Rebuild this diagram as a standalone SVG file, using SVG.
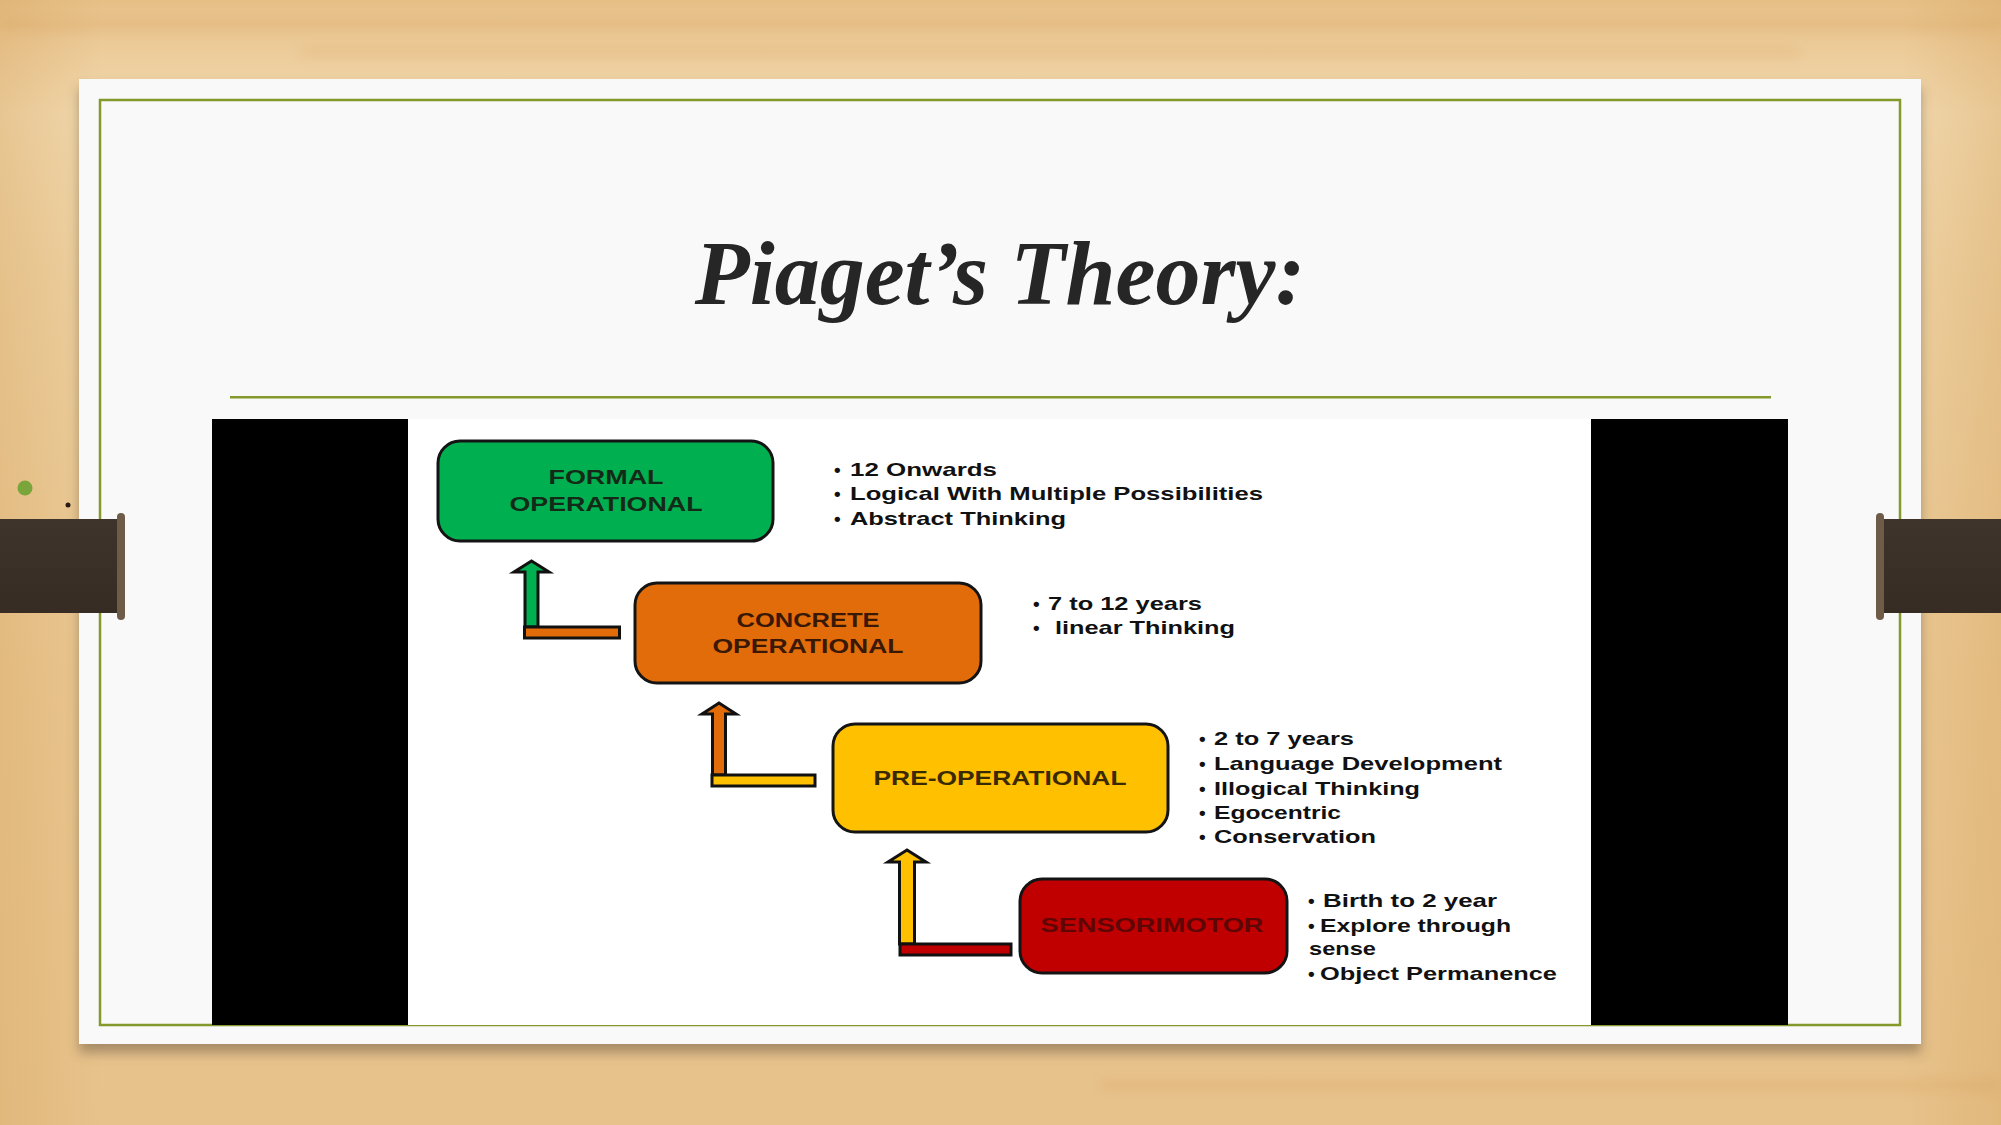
<svg xmlns="http://www.w3.org/2000/svg" width="2001" height="1125" viewBox="0 0 2001 1125">
<defs>
<linearGradient id="wood" x1="0" y1="0" x2="0" y2="1">
<stop offset="0" stop-color="#e6bf86"/>
<stop offset="0.05" stop-color="#edcd9c"/>
<stop offset="0.1" stop-color="#f1d8ad"/>
<stop offset="0.25" stop-color="#edd0a0"/>
<stop offset="0.6" stop-color="#e9c690"/>
<stop offset="1" stop-color="#e7c28b"/>
</linearGradient>
<linearGradient id="woodx" x1="0" y1="0" x2="1" y2="0">
<stop offset="0" stop-color="#d6a460" stop-opacity="0.35"/>
<stop offset="0.05" stop-color="#d6a460" stop-opacity="0"/>
<stop offset="0.95" stop-color="#d6a460" stop-opacity="0"/>
<stop offset="1" stop-color="#d6a460" stop-opacity="0.35"/>
</linearGradient>
<filter id="shadow" x="-5%" y="-5%" width="110%" height="115%">
<feDropShadow dx="0" dy="9" stdDeviation="6" flood-color="#5a4a3a" flood-opacity="0.45"/>
</filter>
<filter id="soft" x="-10%" y="-200%" width="120%" height="500%">
<feGaussianBlur stdDeviation="6"/>
</filter>
<linearGradient id="tab" x1="0" y1="0" x2="0" y2="1">
<stop offset="0" stop-color="#3e342b"/>
<stop offset="1" stop-color="#362c24"/>
</linearGradient>
</defs>
<style>
.box{stroke:#141414;stroke-width:3}
.lbl{font-family:"Liberation Sans",Arial,sans-serif;font-weight:bold;font-size:21px;text-anchor:middle}
.bt{font-family:"Liberation Sans",Arial,sans-serif;font-weight:bold;font-size:19px;fill:#111}
.bul{font-family:"Liberation Sans",Arial,sans-serif;font-weight:bold;font-size:19px;fill:#111}
.arr{stroke:#111;stroke-width:3;stroke-linejoin:miter}
</style>

<!-- background -->
<rect x="0" y="0" width="2001" height="1125" fill="url(#wood)"/>
<rect x="0" y="0" width="2001" height="1125" fill="url(#woodx)"/>
<g opacity="0.22" fill="#d09450" filter="url(#soft)">
<rect x="0" y="20" width="2001" height="10"/>
<rect x="300" y="48" width="1500" height="8"/>
<rect x="1100" y="1080" width="900" height="10"/>
</g>

<!-- slide -->
<rect x="79" y="79" width="1842" height="965" fill="#f9f9f9" filter="url(#shadow)"/>
<rect x="100" y="100" width="1800" height="925" fill="none" stroke="#83992b" stroke-width="2.5"/>

<!-- left/right tabs -->
<rect x="0" y="519" width="123" height="94" fill="url(#tab)"/>
<rect x="117" y="513" width="8" height="107" rx="4" fill="#6e5c49"/>
<rect x="1878" y="519" width="123" height="94" fill="url(#tab)"/>
<rect x="1876" y="513" width="8" height="107" rx="4" fill="#6e5c49"/>
<circle cx="25" cy="488" r="7.5" fill="#7aa53a"/>
<circle cx="68" cy="505" r="2.5" fill="#2a1a14"/>

<!-- title -->
<text x="1000" y="304" font-family="'Liberation Serif','Times New Roman',serif" font-weight="bold" font-style="italic" font-size="90" fill="#262626" text-anchor="middle">Piaget’s Theory:</text>
<rect x="230" y="396" width="1541" height="2.5" fill="#83992b"/>

<!-- picture frame -->
<rect x="212" y="419" width="1576" height="606" fill="#ffffff"/>
<rect x="212" y="419" width="196" height="606" fill="#000"/>
<rect x="1591" y="419" width="197" height="606" fill="#000"/>

<!-- connectors -->
<g id="connectors">
<path class="arr" fill="#00b050" d="M525,627 V572 H514 L531.5,561 L549,572 H538 V627 Z"/>
<rect class="arr" x="524.5" y="627" width="95" height="11" fill="#e36c0a"/>
<path class="arr" fill="#e36c0a" d="M712.5,775 V714 H702 L719,703 L736,714 H725.5 V775 Z"/>
<rect class="arr" x="712" y="775" width="103" height="11" fill="#ffc000"/>
<path class="arr" fill="#ffc000" d="M899.5,944 V862 H888 L907,850 L926,862 H914.5 V944 Z"/>
<rect class="arr" x="900" y="944" width="111" height="11" fill="#c00000"/>
</g>

<!-- nodes -->
<g id="formal">
<rect class="box" x="438" y="441" width="335" height="100" rx="22" fill="#00b050"/>
<text class="lbl" x="606" y="484" fill="#142a18" textLength="115" lengthAdjust="spacingAndGlyphs">FORMAL</text>
<text class="lbl" x="606" y="511" fill="#142a18" textLength="193" lengthAdjust="spacingAndGlyphs">OPERATIONAL</text>
</g>
<g id="formal-notes">
<text class="bul" x="834" y="476">•</text>
<text class="bt" x="850" y="476" textLength="147" lengthAdjust="spacingAndGlyphs">12 Onwards</text>
<text class="bul" x="834" y="500">•</text>
<text class="bt" x="850" y="500" textLength="413" lengthAdjust="spacingAndGlyphs">Logical With Multiple Possibilities</text>
<text class="bul" x="834" y="525">•</text>
<text class="bt" x="850" y="525" textLength="216" lengthAdjust="spacingAndGlyphs">Abstract Thinking</text>
</g>

<g id="concrete">
<rect class="box" x="635" y="583" width="346" height="100" rx="22" fill="#e36c0a"/>
<text class="lbl" x="808" y="627" fill="#3a1806" textLength="143" lengthAdjust="spacingAndGlyphs">CONCRETE</text>
<text class="lbl" x="808" y="653" fill="#3a1806" textLength="191" lengthAdjust="spacingAndGlyphs">OPERATIONAL</text>
</g>
<g id="concrete-notes">
<text class="bul" x="1033" y="610">•</text>
<text class="bt" x="1048" y="610" textLength="154" lengthAdjust="spacingAndGlyphs">7 to 12 years</text>
<text class="bul" x="1033" y="634">•</text>
<text class="bt" x="1055" y="634" textLength="180" lengthAdjust="spacingAndGlyphs">linear Thinking</text>
</g>

<g id="preoperational">
<rect class="box" x="833" y="724" width="335" height="108" rx="22" fill="#ffc000"/>
<text class="lbl" x="1000" y="785" fill="#3a2a04" textLength="253" lengthAdjust="spacingAndGlyphs">PRE-OPERATIONAL</text>
</g>
<g id="preoperational-notes">
<text class="bul" x="1199" y="745">•</text>
<text class="bt" x="1214" y="745" textLength="140" lengthAdjust="spacingAndGlyphs">2 to 7 years</text>
<text class="bul" x="1199" y="770">•</text>
<text class="bt" x="1214" y="770" textLength="288" lengthAdjust="spacingAndGlyphs">Language Development</text>
<text class="bul" x="1199" y="795">•</text>
<text class="bt" x="1214" y="795" textLength="206" lengthAdjust="spacingAndGlyphs">Illogical Thinking</text>
<text class="bul" x="1199" y="819">•</text>
<text class="bt" x="1214" y="819" textLength="127" lengthAdjust="spacingAndGlyphs">Egocentric</text>
<text class="bul" x="1199" y="843">•</text>
<text class="bt" x="1214" y="843" textLength="162" lengthAdjust="spacingAndGlyphs">Conservation</text>
</g>

<g id="sensorimotor">
<rect class="box" x="1020" y="879" width="267" height="94" rx="22" fill="#c00000"/>
<text class="lbl" x="1152" y="932" fill="#5e0606" textLength="223" lengthAdjust="spacingAndGlyphs">SENSORIMOTOR</text>
</g>
<g id="sensorimotor-notes">
<text class="bul" x="1308" y="907">•</text>
<text class="bt" x="1323" y="907" textLength="174" lengthAdjust="spacingAndGlyphs">Birth to 2 year</text>
<text class="bul" x="1308" y="932">•</text>
<text class="bt" x="1320" y="932" textLength="191" lengthAdjust="spacingAndGlyphs">Explore through</text>
<text class="bt" x="1309" y="955" textLength="67" lengthAdjust="spacingAndGlyphs">sense</text>
<text class="bul" x="1308" y="980">•</text>
<text class="bt" x="1320" y="980" textLength="237" lengthAdjust="spacingAndGlyphs">Object Permanence</text>
</g>
</svg>
